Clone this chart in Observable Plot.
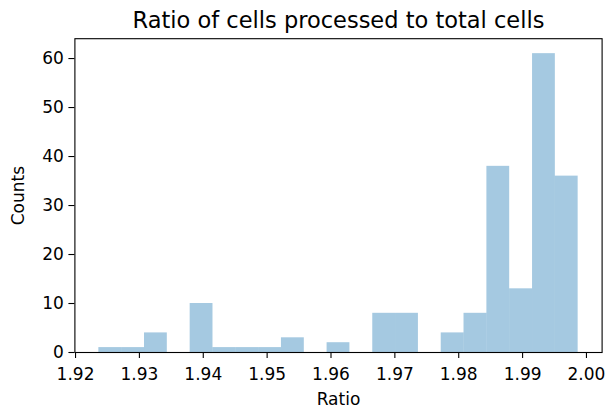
<!DOCTYPE html>
<html>
<head>
<meta charset="utf-8">
<script src="https://cdn.jsdelivr.net/npm/d3@7"></script>
<script src="https://cdn.jsdelivr.net/npm/@observablehq/plot@0.6"></script>
<style>
  html, body { margin: 0; padding: 0; background: #fff; }
  #chart svg { display: block; }
</style>
</head>
<body>
<div id="chart"></div>
<script>
const title = "Ratio of cells processed to total cells";
const xLabel = "Ratio";
const yLabel = "Counts";
const binEdges = [1.92365, 1.92722, 1.93080, 1.93437, 1.93795, 1.94152, 1.94509, 1.94867,
  1.95224, 1.95582, 1.95939, 1.96296, 1.96654, 1.97011, 1.97369, 1.97726, 1.98083,
  1.98441, 1.98798, 1.99156, 1.99513, 1.99870];
const counts = [1, 1, 4, 0, 10, 1, 1, 1, 3, 0, 2, 0, 8, 8, 0, 4, 8, 38, 13, 61, 36];
const xTicks = [1.92, 1.93, 1.94, 1.95, 1.96, 1.97, 1.98, 1.99, 2.00];
const yTicks = [0, 10, 20, 30, 40, 50, 60];

const bins = counts.map((c, i) => ({x1: binEdges[i], x2: binEdges[i + 1], count: c})).filter(d => d.count > 0);

const chart = Plot.plot({
  width: 608,
  height: 408,
  marginLeft: 74.4,
  marginRight: 6.4,
  marginTop: 38.2,
  marginBottom: 56,
  style: {fontFamily: "DejaVu Sans", background: "#fff", color: "#000"},
  x: {domain: [1.91990, 2.00245]},
  y: {domain: [0, 64.05]},
  marks: [
    Plot.rectY(bins, {x1: "x1", x2: "x2", y: "count", fill: "#1f77b4", fillOpacity: 0.4}),
    Plot.frame({stroke: "#000", strokeWidth: 1.1}),
    Plot.axisX({ticks: xTicks, tickFormat: d3.format(".2f"), tickSize: 6, tickPadding: 9, fontSize: 17, stroke: "#000", strokeWidth: 1.1, label: null}),
    Plot.axisY({ticks: yTicks, tickSize: 6, tickPadding: 5, fontSize: 17, stroke: "#000", strokeWidth: 1.1, label: null}),
    Plot.text([title], {frameAnchor: "top", dy: -11, lineAnchor: "bottom", fontSize: 22.5, fill: "#000"}),
    Plot.text([xLabel], {frameAnchor: "bottom", dy: 52, lineAnchor: "bottom", fontSize: 17, fill: "#000"}),
    Plot.text([yLabel], {frameAnchor: "left", dx: -56, rotate: -90, textAnchor: "middle", fontSize: 17, fill: "#000"})
  ]
});
document.getElementById("chart").appendChild(chart);
</script>
</body>
</html>
